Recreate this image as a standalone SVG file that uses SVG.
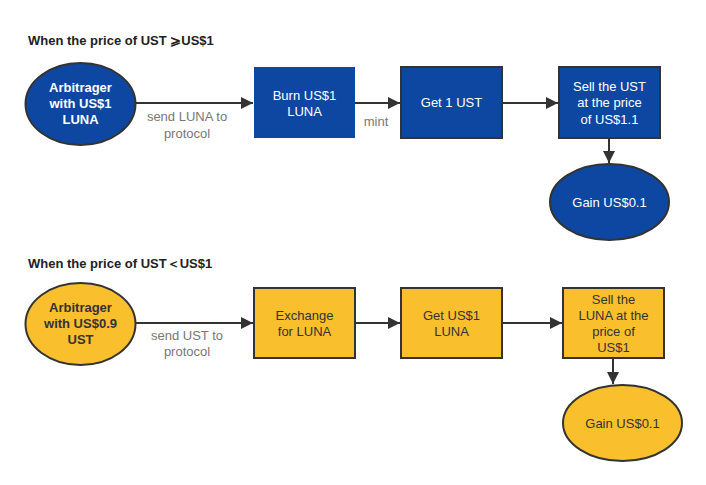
<svg xmlns="http://www.w3.org/2000/svg" width="706" height="485" viewBox="0 0 706 485">
<defs>
<style>
.title{font-family:"Liberation Sans",Arial,sans-serif;font-size:13px;fill:#222;font-weight:bold}
.blue{fill:#0E47A1;stroke:#333;stroke-width:2}
.yellow{fill:#F9BF2D;stroke:#333;stroke-width:2}
.wt{font-family:"Liberation Sans",Arial,sans-serif;font-size:13px;fill:#fff;text-anchor:middle}
.wb{font-family:"Liberation Sans",Arial,sans-serif;font-size:13px;fill:#fff;text-anchor:middle;font-weight:bold}
.yt{font-family:"Liberation Sans",Arial,sans-serif;font-size:13px;fill:#333;text-anchor:middle}
.yb{font-family:"Liberation Sans",Arial,sans-serif;font-size:13px;fill:#333;text-anchor:middle;font-weight:bold}
.lbl{font-family:"Liberation Sans",Arial,sans-serif;font-size:13px;fill:#777;text-anchor:middle}
.edge{stroke:#333;stroke-width:2;fill:none;marker-end:url(#arr)}
</style>
<marker id="arr" viewBox="0 0 10 10" refX="10" refY="5" markerWidth="6" markerHeight="6" markerUnits="strokeWidth" orient="auto">
<path d="M0,0 L10,5 L0,10 z" fill="#333"/>
</marker>
</defs>
<rect width="706" height="485" fill="#fff"/>
<text class="title" x="28" y="45">When the price of UST ⩾US$1</text>
<text class="title" x="28" y="268">When the price of UST＜US$1</text>
<g id="connectors">
<line class="edge" x1="136" y1="103" x2="253" y2="103"/>
<line class="edge" x1="355" y1="103" x2="400" y2="103"/>
<line class="edge" x1="502" y1="103" x2="558" y2="103"/>
<line class="edge" x1="609" y1="138" x2="609" y2="163"/>
<line class="edge" x1="136" y1="323" x2="253" y2="323"/>
<line class="edge" x1="355" y1="323" x2="400" y2="323"/>
<line class="edge" x1="502" y1="323" x2="562" y2="323"/>
<line class="edge" x1="613" y1="358" x2="613" y2="384"/>
<text class="lbl" x="187" y="121">send LUNA to</text>
<text class="lbl" x="187" y="138">protocol</text>
<text class="lbl" x="376" y="126">mint</text>
<text class="lbl" x="187" y="340">send UST to</text>
<text class="lbl" x="187" y="356">protocol</text>
</g>
<g id="arb1">
<ellipse class="blue" cx="80.5" cy="104" rx="55" ry="41"/>
<text class="wb" x="80.5" y="92">Arbitrager</text>
<text class="wb" x="80.5" y="108">with US$1</text>
<text class="wb" x="80.5" y="124">LUNA</text>
</g>
<g id="burn">
<rect x="254" y="67" width="101" height="71" fill="#0E47A1"/>
<text class="wt" x="304.5" y="100">Burn US$1</text>
<text class="wt" x="304.5" y="116">LUNA</text>
</g>
<g id="get1ust">
<rect class="blue" x="401" y="67" width="101" height="71"/>
<text class="wt" x="451.5" y="107">Get 1 UST</text>
</g>
<g id="sellust">
<rect class="blue" x="559" y="67" width="101" height="71"/>
<text class="wt" x="609.5" y="91">Sell the UST</text>
<text class="wt" x="609.5" y="107">at the price</text>
<text class="wt" x="609.5" y="124">of US$1.1</text>
</g>
<g id="gain1">
<ellipse class="blue" cx="609.5" cy="202" rx="59.5" ry="38"/>
<text class="wt" x="609.5" y="207">Gain US$0.1</text>
</g>
<g id="arb2">
<ellipse class="yellow" cx="80.5" cy="324" rx="55" ry="41"/>
<text class="yb" x="80.5" y="312">Arbitrager</text>
<text class="yb" x="80.5" y="328">with US$0.9</text>
<text class="yb" x="80.5" y="344">UST</text>
</g>
<g id="exchange">
<rect class="yellow" x="254" y="288" width="101" height="70"/>
<text class="yt" x="304.5" y="320">Exchange</text>
<text class="yt" x="304.5" y="336">for LUNA</text>
</g>
<g id="getluna">
<rect class="yellow" x="401" y="288" width="101" height="70"/>
<text class="yt" x="451.5" y="320">Get US$1</text>
<text class="yt" x="451.5" y="336">LUNA</text>
</g>
<g id="sellluna">
<rect class="yellow" x="563" y="288" width="101" height="70"/>
<text class="yt" x="613.5" y="304">Sell the</text>
<text class="yt" x="613.5" y="320">LUNA at the</text>
<text class="yt" x="613.5" y="336">price of</text>
<text class="yt" x="613.5" y="352">US$1</text>
</g>
<g id="gain2">
<ellipse class="yellow" cx="622.5" cy="423" rx="59.5" ry="38"/>
<text class="yt" x="622.5" y="428">Gain US$0.1</text>
</g>
</svg>
